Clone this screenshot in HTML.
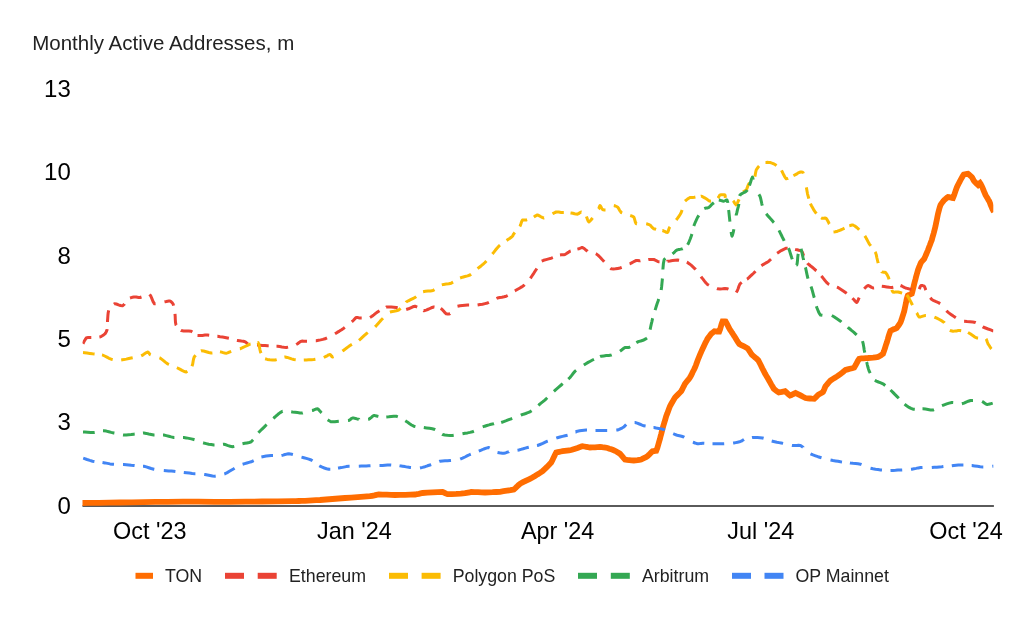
<!DOCTYPE html>
<html><head><meta charset="utf-8"><title>Monthly Active Addresses</title>
<style>
html,body{margin:0;padding:0;background:#fff;}
body{width:1024px;height:617px;overflow:hidden;font-family:"Liberation Sans",sans-serif;}
svg{display:block;will-change:transform}
text{font-family:"Liberation Sans",sans-serif;}
.ax{font-size:24px;fill:#000;}
.lg{font-size:17.75px;fill:#222;}
.d{fill:none;stroke-width:3.0;stroke-linejoin:round;}
</style></head><body>
<svg width="1024" height="617" viewBox="0 0 1024 617">
<rect width="1024" height="617" fill="#fff"/>
<defs><clipPath id="cp"><rect x="82.5" y="70" width="910.8" height="440"/></clipPath></defs>
<text x="32.2" y="49.8" style="font-size:20.5px;fill:#222">Monthly Active Addresses, m</text>
<g class="ax" text-anchor="end">
<text x="70.8" y="97">13</text>
<text x="70.8" y="180.3">10</text>
<text x="70.8" y="263.7">8</text>
<text x="70.8" y="347">5</text>
<text x="70.8" y="430.4">3</text>
<text x="70.8" y="513.6">0</text>
</g>
<g class="ax" text-anchor="middle" style="font-size:23.4px">
<text x="149.8" y="538.6">Oct '23</text>
<text x="354.4" y="538.6">Jan '24</text>
<text x="557.6" y="538.6">Apr '24</text>
<text x="760.8" y="538.6">Jul '24</text>
<text x="966" y="538.6">Oct '24</text>
</g>
<rect x="82.5" y="505" width="911.4" height="2" fill="#5a5a5a"/>
<g clip-path="url(#cp)">
<polyline fill="none" stroke="#ff6d01" stroke-width="5.8" stroke-linejoin="miter" stroke-miterlimit="3" stroke-linecap="butt" points="80.0,503.0 88.6,502.9 98.7,502.8 109.5,502.6 120.0,502.5 131.8,502.3 143.6,502.1 155.5,501.9 167.5,501.8 183.0,501.7 198.6,501.7 214.3,501.8 230.0,501.8 245.9,501.6 262.0,501.5 277.7,501.4 292.5,501.2 295.8,501.1 298.9,501.0 301.9,500.9 305.0,500.8 308.7,500.6 312.4,500.4 316.2,500.2 320.0,500.0 326.1,499.5 332.4,499.0 338.7,498.5 345.0,498.0 351.3,497.6 357.7,497.1 364.0,496.7 370.0,496.2 372.3,495.8 374.4,495.4 376.5,494.9 378.8,494.5 382.7,494.6 386.8,494.7 390.9,494.9 395.0,495.0 400.0,494.9 405.1,494.8 410.2,494.7 415.0,494.5 416.9,494.1 418.8,493.8 420.6,493.4 422.5,493.0 427.4,492.7 432.6,492.4 437.7,492.1 442.5,492.0 443.8,492.5 445.0,493.1 446.2,493.7 447.5,494.2 451.7,494.1 456.2,493.9 460.7,493.6 465.0,493.2 466.6,492.9 468.1,492.6 469.7,492.3 471.2,492.0 474.6,492.1 478.0,492.2 481.5,492.4 485.0,492.5 488.7,492.3 492.5,492.2 496.3,492.0 500.0,491.8 503.5,491.2 507.0,490.7 510.4,490.2 513.8,489.5 515.4,488.1 516.9,486.7 518.4,485.2 520.0,483.8 523.0,482.2 526.2,480.6 529.4,479.1 532.5,477.5 535.0,476.0 537.5,474.4 540.0,472.9 542.5,471.2 544.7,469.1 547.0,466.9 549.1,464.7 551.2,462.5 552.5,460.0 553.7,457.4 555.0,454.8 556.2,452.5 557.8,452.1 559.3,451.8 560.9,451.5 562.5,451.2 564.7,450.9 566.9,450.6 569.1,450.3 571.2,450.0 572.8,449.5 574.4,449.0 576.0,448.5 577.5,448.0 578.8,447.5 580.0,447.1 581.2,446.6 582.5,446.2 584.3,446.5 586.2,446.8 588.1,447.2 590.0,447.5 592.5,447.4 595.0,447.3 597.5,447.1 600.0,447.0 601.9,447.2 603.8,447.5 605.6,447.7 607.5,448.0 609.4,448.7 611.3,449.3 613.2,450.0 615.0,450.8 616.3,451.5 617.5,452.2 618.8,453.0 620.0,453.8 621.2,455.2 622.5,456.7 623.7,458.1 625.0,459.5 627.1,459.9 629.3,460.1 631.6,460.3 633.8,460.5 635.6,460.3 637.5,460.1 639.4,459.8 641.2,459.5 642.8,458.7 644.4,457.9 646.0,457.1 647.5,456.2 648.8,455.0 650.0,453.7 651.3,452.4 652.5,451.2 653.4,451.1 654.4,451.0 655.3,450.9 656.2,450.8 657.3,448.0 658.2,445.0 659.1,441.8 660.0,438.8 660.6,436.2 661.3,433.8 661.9,431.3 662.5,428.8 663.4,425.6 664.4,422.5 665.3,419.4 666.2,416.2 667.2,413.7 668.1,411.2 669.0,408.7 670.0,406.2 671.2,404.0 672.5,401.8 673.7,399.6 675.0,397.5 676.6,395.9 678.1,394.4 679.7,392.8 681.2,391.2 682.2,389.4 683.1,387.5 684.1,385.6 685.0,383.8 686.2,382.2 687.5,380.6 688.8,379.1 690.0,377.5 691.3,375.1 692.5,372.5 693.8,370.0 695.0,367.5 696.0,365.0 696.9,362.5 697.8,360.0 698.8,357.5 700.0,354.7 701.2,351.8 702.5,349.0 703.8,346.2 704.7,344.3 705.6,342.4 706.6,340.6 707.5,338.8 708.4,337.5 709.4,336.2 710.3,335.0 711.2,333.8 712.1,333.1 712.9,332.5 713.7,331.9 714.5,331.3 715.7,331.4 716.9,331.5 718.1,331.7 719.2,331.7 720.1,329.3 720.9,326.5 721.7,323.7 722.6,321.3 723.3,321.3 724.1,321.3 724.9,321.4 725.6,321.5 726.6,323.2 727.6,325.1 728.6,327.1 729.6,329.0 730.8,330.8 732.0,332.7 733.2,334.5 734.4,336.3 735.6,338.2 736.8,340.2 738.0,342.1 739.3,344.0 741.3,345.1 743.5,346.2 745.6,347.3 747.6,348.4 748.7,349.9 749.8,351.5 750.8,353.1 751.9,354.7 753.5,356.1 755.1,357.5 756.7,358.8 758.3,360.3 759.7,363.0 761.1,365.7 762.4,368.5 763.8,371.2 765.0,373.5 766.2,375.6 767.5,377.8 768.8,380.0 770.0,382.2 771.2,384.4 772.5,386.6 773.8,388.8 775.0,389.8 776.2,390.7 777.5,391.7 778.8,392.5 780.3,392.2 781.9,391.9 783.5,391.5 785.0,391.2 786.3,392.3 787.5,393.4 788.7,394.5 790.0,395.5 791.4,395.0 792.7,394.3 794.1,393.6 795.5,393.0 797.9,394.1 800.5,395.4 803.0,396.8 805.5,398.0 807.7,398.3 809.9,398.5 812.1,398.7 814.2,398.8 815.2,397.9 816.2,396.9 817.1,395.9 818.0,395.0 819.2,394.2 820.5,393.5 821.8,392.8 823.0,392.0 823.7,390.6 824.3,389.2 824.9,387.7 825.5,386.2 826.7,384.8 827.9,383.4 829.2,381.9 830.5,380.5 832.6,379.1 834.9,377.7 837.1,376.4 839.2,375.0 840.8,373.7 842.4,372.5 843.9,371.2 845.5,370.0 847.7,369.4 849.9,368.8 852.1,368.2 854.2,367.5 855.5,365.4 856.7,363.1 857.9,360.8 859.2,358.8 861.4,358.4 863.6,358.3 865.8,358.1 868.0,358.0 870.5,357.8 873.1,357.6 875.6,357.3 878.0,357.0 879.3,356.2 880.6,355.5 881.8,354.6 883.0,353.8 884.0,351.1 884.9,348.3 885.8,345.4 886.8,342.5 887.7,339.5 888.5,336.5 889.5,333.5 890.5,330.8 892.0,330.0 893.6,329.3 895.2,328.7 896.8,328.0 897.7,326.7 898.7,325.3 899.6,323.9 900.5,322.5 901.5,319.8 902.4,316.9 903.3,314.1 904.2,311.2 904.8,308.4 905.4,305.5 906.0,302.7 906.5,300.0 906.8,298.8 907.1,297.7 907.4,296.6 907.8,295.5 908.8,295.0 909.8,294.6 910.8,294.1 911.8,293.6 912.3,292.0 912.7,290.4 913.1,288.7 913.5,287.0 914.1,284.5 914.7,282.0 915.4,279.5 916.0,277.0 916.5,275.2 917.0,273.5 917.5,271.7 918.0,270.0 918.7,268.1 919.5,266.2 920.2,264.3 921.0,262.5 921.8,261.5 922.6,260.6 923.4,259.7 924.2,258.8 925.2,256.6 926.1,254.5 927.1,252.2 928.0,250.0 928.9,247.5 929.9,245.0 930.8,242.5 931.8,240.0 932.7,236.6 933.7,233.2 934.6,229.7 935.5,226.2 936.1,223.1 936.8,220.0 937.4,216.8 938.0,213.8 938.6,211.5 939.2,209.3 939.8,207.1 940.5,205.0 941.4,203.7 942.3,202.4 943.3,201.2 944.2,200.0 945.2,199.2 946.1,198.4 947.0,197.7 948.0,197.0 949.2,197.2 950.5,197.5 951.8,197.8 953.0,198.0 954.0,195.6 954.9,192.9 955.8,190.2 956.8,187.5 957.7,185.6 958.6,183.7 959.6,181.8 960.5,180.0 961.3,178.6 962.1,177.2 962.9,175.8 963.8,174.5 964.8,174.2 965.9,174.0 966.9,173.9 968.0,173.8 969.0,174.5 969.9,175.3 970.8,176.1 971.8,177.0 972.4,178.0 973.0,179.1 973.6,180.2 974.2,181.2 975.2,182.2 976.1,183.3 977.1,184.2 978.0,185.0 978.5,184.5 979.0,184.0 979.5,183.4 980.0,183.0 980.8,184.2 981.5,185.7 982.3,187.2 983.0,188.8 983.6,190.3 984.2,191.9 984.9,193.4 985.5,195.0 986.4,196.6 987.4,198.1 988.3,199.7 989.2,201.2 989.9,202.8 990.5,204.4 991.1,206.0 991.8,207.5 992.3,208.7 992.9,209.9 993.5,211.0 994.0,212.0"/>
<path class="d" stroke="#ea4335" d="M83.0,343.8 L83.5,342.7 L84.3,341.1 L85.3,339.4 L86.2,338.0 L87.1,337.7 L88.0,337.6 L89.0,337.6 L90.0,337.5 L91.3,337.5 M99.4,337.1 L100.0,337.0 L101.4,336.3 L102.7,335.5 L103.9,334.7 L105.0,333.8 L105.6,332.9 L106.1,332.0 L106.6,331.0 L107.0,330.0 L107.1,329.1 M107.5,322.0 L107.5,321.2 L107.7,318.4 L107.9,315.5 L108.2,312.6 L108.7,310.4 M113.9,304.2 L114.5,303.8 L116.4,304.0 L118.5,304.8 L120.5,305.5 L122.5,305.8 L124.5,304.2 L124.6,304.0 M130.0,298.0 L131.3,297.6 L132.5,297.3 L133.8,297.1 L135.0,297.0 L136.2,297.1 L137.4,297.3 L138.7,297.5 L140.0,297.5 L141.5,297.0 M149.6,294.4 L150.9,296.2 L152.0,298.9 L153.1,301.7 L154.5,303.8 L155.6,303.7 M164.5,301.9 L165.0,301.8 L166.4,301.5 L167.6,301.2 L168.8,301.0 L170.0,301.0 L170.8,301.5 L171.6,302.2 L172.3,302.9 L173.0,303.8 L173.6,305.6 M175.0,313.8 L175.2,316.6 L175.3,319.5 L175.5,322.4 L176.0,325.0 L176.2,325.3 M180.9,330.3 L181.2,330.5 L183.6,330.9 L186.2,330.9 L188.8,331.0 L191.2,331.2 L192.3,331.9 M197.5,335.5 L199.9,335.6 L202.4,335.4 L205.0,335.1 L207.5,335.0 L209.2,335.2 M217.4,336.2 L217.5,336.2 L220.0,336.7 L222.5,337.1 L225.0,337.5 L227.5,338.0 L228.9,338.3 M236.9,340.4 L237.5,340.5 L239.5,340.8 L241.4,341.1 L243.3,341.3 L245.0,341.8 L246.0,342.4 L246.9,343.1 L247.7,343.9 L247.8,343.9 M257.0,345.0 L257.5,345.0 L260.0,345.2 L262.5,345.4 L265.0,345.6 L267.5,345.8 L268.7,345.8 M276.5,346.2 L277.5,346.2 L279.7,346.6 L281.9,347.0 L284.1,347.3 L286.2,347.5 L288.1,347.1 M296.2,344.5 L297.6,343.7 L298.8,342.8 L300.0,341.9 L301.2,341.2 L302.5,341.1 L303.7,341.2 L304.9,341.2 L306.2,341.2 L307.0,341.2 M315.8,340.8 L316.2,340.8 L318.5,340.3 L320.6,339.9 L322.8,339.4 L325.0,338.8 L327.0,337.8 M335.0,333.8 L337.2,332.4 L339.4,331.1 L341.6,329.7 L343.8,328.2 L344.8,327.4 M351.8,321.8 L352.5,321.2 L353.5,320.2 L354.4,319.2 L355.3,318.2 L356.2,317.5 L357.1,317.5 L358.0,317.6 L359.0,317.9 L360.0,318.0 L361.7,318.0 M370.0,317.5 L372.0,316.3 L373.8,314.9 L375.6,313.4 L377.5,312.0 L379.5,310.7 M386.1,307.1 L386.2,307.0 L388.7,306.9 L391.2,307.0 L393.7,307.2 L396.2,307.5 L397.7,307.8 M406.2,309.5 L408.5,308.8 L410.7,307.8 L412.8,306.8 L415.0,306.2 L417.2,307.1 M423.5,310.6 L423.8,310.8 L426.2,310.1 L428.8,309.0 L431.3,307.8 L433.8,307.0 L434.5,307.1 M440.6,308.5 L441.2,308.8 L442.6,309.9 L443.8,311.3 L445.0,312.7 L446.2,313.8 L447.2,313.9 L448.1,314.0 L449.0,313.9 L450.0,313.8 L450.1,313.7 M457.5,306.2 L459.9,305.7 L462.4,305.4 L465.0,305.2 L467.5,305.0 L469.1,305.0 M477.6,305.0 L480.0,304.6 L482.5,304.2 L485.0,303.6 L487.5,303.0 L488.9,302.3 M496.5,298.5 L497.5,298.0 L499.7,297.5 L501.9,297.2 L504.1,296.8 L506.2,296.2 L507.7,295.5 M514.8,290.9 L515.0,290.8 L517.2,289.5 L519.5,288.2 L521.7,286.9 L523.8,285.5 L524.6,284.7 M530.4,278.3 L531.6,276.5 L533.2,274.2 L534.7,271.8 L536.2,269.5 L536.8,268.5 M541.7,261.1 L543.6,260.3 L546.1,259.6 L548.7,258.9 L551.2,258.2 L552.9,257.6 M560.0,255.0 L561.3,254.8 L562.6,254.8 L563.8,254.7 L565.0,254.5 L566.2,253.8 L567.4,252.9 L568.7,252.1 L570.0,251.2 L570.7,251.0 M577.4,249.1 L578.8,248.8 L579.8,248.4 L580.7,248.0 L581.6,247.6 L582.5,247.5 L583.7,248.2 L584.9,249.2 L586.2,250.3 L587.5,251.2 L587.6,251.3 M595.8,253.6 L596.2,253.8 L598.2,255.4 L600.1,257.3 L601.9,259.3 L603.8,261.2 L604.2,261.7 M610.4,268.1 L611.2,268.8 L613.4,268.9 L615.5,268.8 L617.8,268.4 L620.0,268.0 L621.7,267.4 M629.6,263.9 L630.0,263.8 L631.6,262.9 L633.2,262.0 L634.8,261.1 L636.2,260.5 L637.2,260.5 L638.1,260.6 L639.0,260.7 L640.0,260.8 L640.4,260.7 M648.3,259.6 L648.8,259.5 L650.1,259.4 L651.3,259.4 L652.5,259.4 L653.8,259.5 L655.0,260.0 L656.2,260.6 L657.4,261.3 L658.8,261.8 L659.5,261.8 M667.5,261.3 L667.5,261.2 L670.0,260.9 L672.5,260.5 L675.0,260.2 L677.5,260.0 L679.1,260.3 M686.8,262.2 L687.5,262.5 L689.5,263.9 L691.4,265.4 L693.2,267.1 L695.0,268.8 L695.7,269.6 M701.0,276.7 L701.2,277.0 L702.8,278.9 L704.3,280.9 L705.8,282.8 L707.5,284.5 L708.9,285.3 M716.9,288.6 L717.5,288.8 L720.0,288.9 L722.5,288.8 L725.0,288.6 L727.5,288.8 L728.5,289.2 M736.2,292.5 L737.3,290.8 L738.2,288.5 L739.0,286.0 L740.0,283.8 L741.7,282.4 M746.9,279.1 L747.5,278.8 L749.1,277.4 L750.6,275.9 L752.2,274.5 L753.8,273.0 L755.5,271.2 M761.4,265.7 L763.1,264.6 L765.0,263.5 L766.9,262.4 L768.8,261.2 L770.6,259.5 L771.0,259.1 M777.1,253.2 L778.7,252.2 L781.2,250.6 L783.7,249.3 L786.2,248.2 L787.6,248.3 M795.1,249.4 L795.5,249.5 L797.2,249.8 L798.8,250.2 L800.4,250.6 L801.8,251.2 L802.5,252.6 L803.1,254.2 L803.6,255.7 M807.6,263.2 L808.0,263.8 L809.5,265.0 L811.0,266.3 L812.6,267.5 L814.2,268.8 L816.1,270.6 L816.4,270.8 M821.3,276.0 L821.8,276.5 L823.3,278.4 L824.8,280.3 L826.3,282.1 L828.0,283.8 L829.3,284.3 M836.9,287.1 L838.0,287.5 L839.9,288.7 L841.8,289.9 L843.7,291.2 L845.5,292.5 L846.7,293.4 M852.4,298.2 L853.0,298.8 L854.0,299.8 L855.0,301.0 L855.9,301.9 L856.8,302.5 L857.4,301.6 L858.0,300.4 L858.6,298.9 L859.2,297.6 M864.2,288.8 L865.2,287.8 L866.1,286.8 L867.0,286.0 L868.0,285.5 L869.2,285.9 L870.4,286.6 L871.7,287.4 L873.0,288.0 L874.1,287.9 M881.8,286.2 L884.2,286.5 L886.8,286.9 L889.3,287.3 L891.8,287.5 L893.3,287.2 M900.5,285.5 L901.8,286.0 L903.0,286.7 L904.2,287.4 L905.5,288.0 L907.0,288.4 L908.6,288.8 L910.2,289.1 L911.4,289.4 M919.2,289.2 L919.6,288.4 L920.2,286.7 L921.0,285.5 L921.8,285.5 L922.6,285.6 L923.5,285.9 L924.2,286.2 L924.8,287.3 L925.3,288.5 L925.7,289.9 L925.8,290.1 M930.3,297.7 L931.8,299.5 L933.8,300.7 L936.1,301.7 L938.4,302.6 L940.2,303.6 M946.4,310.8 L946.8,311.2 L948.8,312.9 L951.0,314.5 L953.3,316.1 L955.5,317.5 L955.8,317.7 M964.1,321.2 L964.2,321.2 L967.0,321.6 L969.9,321.8 L972.8,322.1 L975.5,322.5 L975.7,322.6 M982.7,326.8 L983.0,327.0 L985.5,328.0 L988.1,329.0 L990.7,329.9 L993.0,330.8 L993.6,331.0"/>
<path class="d" stroke="#fbbc04" d="M83.0,352.5 L84.6,352.7 L87.0,353.0 L89.8,353.4 L92.5,353.8 L94.6,354.0 M102.0,354.9 L102.5,355.0 L104.7,356.0 L106.9,357.1 L109.0,358.3 L111.2,359.2 L112.7,359.5 M121.2,360.0 L123.8,359.6 L126.3,359.1 L128.8,358.5 L131.2,358.0 L132.7,357.7 M141.2,355.8 L143.1,354.8 L144.9,353.6 L146.5,352.6 L148.0,352.0 L148.5,352.5 L149.0,353.1 L149.4,353.8 L150.0,354.5 L150.7,354.8 M159.4,357.8 L160.0,358.0 L161.9,359.4 L163.8,360.9 L165.6,362.4 L167.5,363.8 L169.0,364.4 M176.9,367.7 L177.5,368.0 L179.8,369.2 L182.0,370.4 L184.2,371.5 L186.2,372.0 L187.4,371.3 M192.0,366.2 L192.7,364.0 L193.1,361.6 L193.5,359.2 L194.2,357.0 L195.6,355.3 M201.0,350.9 L201.2,350.8 L203.6,351.0 L206.2,351.7 L208.7,352.5 L211.2,353.0 L212.4,352.9 M220.0,351.8 L221.6,352.1 L223.2,352.6 L224.7,353.0 L226.2,353.2 L227.5,352.9 L228.7,352.4 L229.9,351.8 L231.2,351.3 M239.9,348.8 L240.0,348.8 L242.5,347.7 L245.0,346.5 L247.5,345.3 L250.0,344.2 L250.6,344.1 M257.5,342.5 L258.0,342.5 L258.9,344.4 L259.4,346.9 L259.9,349.5 L260.5,352.0 L261.1,353.2 M265.1,358.8 L267.3,359.4 L269.8,359.8 L272.4,360.0 L275.0,360.0 L276.7,359.6 M284.4,357.1 L285.0,357.0 L287.2,357.4 L289.4,358.1 L291.5,358.9 L293.8,359.5 L295.7,359.7 M303.8,360.0 L306.3,359.9 L308.8,359.8 L311.3,359.7 L313.8,359.5 L315.4,359.2 M323.8,357.5 L325.4,356.7 L327.1,355.8 L328.6,354.9 L330.0,354.5 L330.7,355.0 L331.2,355.8 L331.8,356.5 L332.5,357.0 L333.6,356.6 M342.4,351.1 L343.4,350.4 L345.6,348.8 L347.8,347.1 L350.0,345.5 L351.9,344.4 M359.0,340.3 L360.7,338.9 L362.5,337.2 L364.4,335.4 L366.2,333.8 L367.8,332.6 M375.1,326.9 L376.6,325.3 L378.2,323.5 L379.7,321.8 L381.2,320.0 L383.0,318.2 M389.9,312.1 L391.2,311.7 L393.8,311.3 L396.3,310.8 L398.8,310.0 L400.6,308.3 M406.0,302.3 L406.2,302.0 L408.4,300.8 L410.6,299.7 L412.8,298.6 L415.0,297.5 L416.2,296.6 M423.1,291.7 L425.4,291.3 L428.0,291.1 L430.5,290.9 L433.0,290.5 L434.5,289.6 M441.8,284.9 L443.7,284.4 L446.2,284.1 L448.8,283.8 L451.2,283.2 L453.1,282.2 M460.1,278.0 L462.5,277.2 L465.0,276.5 L467.6,275.9 L470.0,275.0 L471.1,274.2 M477.6,268.7 L479.4,267.2 L481.3,265.7 L483.2,264.1 L485.0,262.5 L486.4,261.0 M492.4,254.0 L493.7,252.4 L495.3,250.3 L497.0,248.2 L498.8,246.2 L500.0,245.2 M506.6,240.5 L507.9,239.6 L509.6,238.5 L511.2,237.3 L512.5,236.2 L512.9,235.6 L513.1,235.0 L513.4,234.4 L513.8,233.8 L514.8,232.5 M519.8,226.5 L520.0,226.2 L520.7,224.6 L521.2,222.9 L521.8,221.3 L522.5,220.0 L523.4,219.9 L524.3,219.9 L525.2,220.0 L526.2,220.0 L527.1,219.7 M533.8,217.0 L534.7,216.4 L535.6,215.9 L536.5,215.3 L537.5,215.0 L539.0,215.6 L540.5,216.5 L542.1,217.4 L543.8,218.0 L544.2,217.9 M552.5,213.8 L552.5,213.8 L553.8,213.1 L555.0,212.5 L556.2,212.0 L557.5,212.0 L558.7,212.1 L559.9,212.3 L561.2,212.5 L563.6,212.6 L563.8,212.6 M570.5,212.9 L571.2,213.0 L572.9,213.3 L574.5,213.8 L576.0,214.1 L577.5,214.2 L578.5,213.7 L579.4,213.0 L580.3,212.4 L581.2,212.0 L581.4,212.1 M586.4,216.5 L586.9,217.8 L587.5,219.5 L588.1,221.0 L588.8,222.0 L589.7,221.3 L590.8,220.2 L591.9,218.8 L592.7,217.9 M598.5,209.1 L598.8,208.8 L599.1,207.8 L599.4,206.8 L599.7,206.0 L600.0,205.5 L600.6,206.2 L601.1,207.3 L601.8,208.5 L602.5,209.5 L603.4,209.8 L604.3,210.0 L605.3,210.0 L605.5,210.0 M613.8,205.6 L614.4,205.7 L615.4,206.0 L616.5,206.5 L617.5,207.0 L618.5,208.2 L619.3,209.7 L620.2,211.2 L621.2,212.5 L622.2,212.9 M630.2,215.5 L631.4,215.9 L632.6,216.4 L633.8,217.0 L634.4,218.6 L634.9,220.4 L635.4,222.3 L636.2,223.8 L636.9,223.8 M646.2,223.8 L647.3,224.0 L648.2,224.3 L649.1,224.6 L650.0,225.0 L650.9,225.9 L651.8,226.9 L652.7,227.9 L653.8,228.8 L655.8,229.3 L656.1,229.4 M662.4,230.5 L662.5,230.5 L663.9,231.1 L665.2,231.7 L666.4,232.3 L667.5,232.5 L668.1,231.6 L668.5,230.3 L668.9,228.9 L669.5,227.5 L670.0,226.9 M676.2,220.0 L677.6,218.2 L678.9,216.3 L680.1,214.5 L681.2,212.5 L682.1,210.0 M685.0,201.2 L686.2,200.1 L687.5,199.1 L688.8,198.2 L690.0,197.5 L690.6,197.4 L691.2,197.4 L691.8,197.5 L692.5,197.5 L694.5,197.2 L695.4,197.0 M700.8,196.3 L701.2,196.2 L702.6,196.7 L703.8,197.4 L705.1,198.1 L706.2,198.8 L707.2,199.4 L708.1,200.1 L709.0,200.8 L710.0,201.2 L711.1,201.1 M717.9,198.2 L718.2,197.8 L718.8,196.8 L719.3,195.8 L720.0,195.0 L721.2,194.8 L722.6,194.7 L723.9,194.7 L725.0,195.0 L725.2,195.8 L725.2,196.8 L725.3,197.8 M733.1,200.7 L733.6,201.2 L734.5,202.8 L735.4,204.1 L736.2,205.0 L736.9,204.2 L737.5,202.9 L738.1,201.4 L738.8,200.0 L739.1,199.3 M743.1,192.0 L743.4,191.8 L744.4,191.2 L745.4,190.7 L746.2,190.0 L746.9,188.6 L747.5,187.0 L748.1,185.3 L748.8,183.8 L749.5,182.8 M754.8,176.6 L755.1,175.7 L755.4,173.7 L755.8,171.8 L756.2,170.0 L757.1,168.6 L758.0,167.3 L759.0,166.1 L759.1,166.0 M765.5,162.4 L766.2,162.4 L767.5,162.3 L768.8,162.4 L770.0,162.5 L771.3,162.9 L772.5,163.3 L773.8,163.9 L775.0,164.5 L776.5,165.6 M781.5,170.4 L782.5,172.3 L783.7,174.8 L784.9,177.1 L786.2,178.8 L788.0,178.4 L788.2,178.3 M793.4,175.7 L793.8,175.5 L795.5,174.6 L797.3,173.6 L798.9,172.6 L800.5,172.0 L801.2,172.0 L801.8,172.1 L802.4,172.2 L803.0,172.5 L803.4,173.6 M806.3,187.3 L806.5,188.1 L807.0,191.0 L807.5,193.8 L808.2,196.3 L808.8,198.7 M810.4,203.6 L810.5,203.8 L811.6,206.0 L812.9,208.3 L814.1,210.4 L815.5,212.5 L816.5,213.6 M821.1,217.8 L821.8,218.2 L822.8,218.3 L823.9,218.2 L825.0,218.1 L826.0,218.2 L826.9,219.4 L827.7,220.7 L828.5,222.2 L829.2,223.8 L829.4,224.0 M833.5,232.0 L835.4,231.8 L837.5,231.2 L839.7,230.3 L841.8,229.5 L843.7,228.6 L844.5,228.2 M849.3,225.7 L850.2,225.5 L851.2,225.2 L852.1,225.0 L853.0,225.0 L853.9,225.5 L854.9,226.0 L855.8,226.7 L856.8,227.5 L858.6,229.2 L859.2,229.8 M864.8,235.9 L865.6,237.1 L866.8,239.3 L868.0,241.6 L869.2,243.8 L870.8,245.9 M875.1,251.9 L875.5,252.5 L876.3,254.9 L876.8,257.5 L877.4,260.0 L878.0,262.5 L878.2,263.2 M881.7,271.6 L881.8,271.8 L882.7,272.1 L883.6,272.2 L884.6,272.2 L885.5,272.5 L886.3,273.5 L887.1,274.7 L887.8,276.1 L888.5,277.5 L889.0,279.3 M891.9,289.9 L892.0,290.2 L892.4,291.2 L893.0,292.0 L894.1,292.2 L895.3,292.1 L896.7,292.0 L898.0,292.0 L900.1,292.5 L902.1,293.1 M906.8,295.0 L908.2,296.9 L909.4,299.1 L910.6,301.5 L911.8,303.8 L912.5,305.2 M916.7,312.9 L916.8,313.0 L917.4,314.1 L917.9,315.2 L918.5,316.2 L919.2,317.0 L920.6,316.9 L922.2,316.4 L923.8,315.9 L925.5,315.5 L925.9,315.5 M934.4,317.1 L936.8,318.2 L939.4,319.5 L941.9,320.9 L944.2,322.5 L944.5,322.9 M949.8,330.3 L950.2,330.5 L951.1,330.8 L952.0,331.0 L953.0,331.2 L954.6,331.1 L956.4,330.9 L958.2,330.6 L960.0,330.5 L961.2,330.7 M968.0,332.5 L970.2,333.8 L972.4,335.3 L974.5,336.8 L976.8,338.0 L978.1,338.1 M986.0,338.8 L986.3,339.2 L986.9,340.7 L987.4,342.3 L988.0,343.8 L988.8,345.0 L989.6,346.2 L990.4,347.5 L991.2,348.8 L991.4,349.0 M996.0,356.0 L996.0,356.0"/>
<path class="d" stroke="#34a853" d="M83.0,432.0 L84.8,432.1 L87.6,432.3 L90.8,432.5 L93.8,432.5 L94.7,432.4 M103.0,430.8 L103.8,430.8 L106.3,431.1 L108.8,431.7 L111.2,432.4 L113.8,433.0 L114.4,433.1 M123.0,434.9 L123.8,435.0 L126.2,434.9 L128.7,434.7 L131.2,434.5 L133.8,434.2 L134.7,434.1 M143.0,433.1 L143.8,433.0 L146.3,433.4 L148.7,434.0 L151.2,434.5 L153.8,435.0 L154.5,435.0 M163.0,435.0 L163.8,435.0 L166.3,435.6 L168.8,436.2 L171.2,436.9 L173.8,437.5 L174.4,437.5 M183.0,437.5 L183.8,437.5 L186.3,437.9 L188.8,438.4 L191.3,438.9 L193.8,439.5 L194.5,439.7 M203.1,442.8 L203.8,443.0 L206.2,443.6 L208.7,444.2 L211.2,444.6 L213.8,445.0 L214.5,445.0 M223.0,444.3 L223.8,444.2 L226.0,444.8 L228.1,445.6 L230.3,446.3 L232.5,446.8 L234.3,446.4 M242.5,443.8 L244.7,443.3 L247.0,442.9 L249.2,442.5 L251.2,441.8 L252.9,440.0 L253.1,439.8 M258.4,432.8 L259.6,431.5 L261.8,429.3 L264.1,427.1 L266.2,425.0 L266.7,424.6 M273.3,418.4 L273.8,418.0 L275.9,416.2 L278.0,414.3 L280.2,412.6 L282.5,411.2 L282.6,411.2 M291.2,411.8 L292.5,412.0 L295.0,412.3 L297.5,412.6 L300.0,412.9 L302.5,413.0 L302.8,412.9 M312.0,410.6 L312.5,410.5 L313.8,410.0 L315.1,409.4 L316.3,409.0 L317.5,408.8 L318.5,409.4 L319.4,410.4 L320.3,411.4 L321.2,412.5 L321.6,412.9 M327.7,419.7 L328.4,420.2 L329.3,420.8 L330.2,421.3 L331.2,421.8 L333.0,421.8 L334.8,421.7 L336.8,421.4 L338.8,421.2 L338.8,421.2 M348.0,420.6 L348.8,420.5 L349.8,419.9 L350.7,419.2 L351.5,418.5 L352.5,418.0 L354.0,418.1 L355.5,418.5 L357.1,418.9 L358.8,419.2 L358.8,419.3 M368.1,419.3 L368.8,419.2 L370.1,418.4 L371.4,417.3 L372.5,416.3 L373.8,415.5 L374.7,415.6 L375.6,415.8 L376.5,416.0 L377.5,416.2 L378.4,416.4 M386.3,417.0 L388.7,416.8 L391.3,416.5 L393.8,416.2 L396.2,416.2 L397.8,416.8 M405.3,420.7 L407.2,421.9 L409.3,423.5 L411.5,425.0 L413.8,426.2 L415.4,426.6 M423.8,427.5 L426.6,427.9 L429.5,428.3 L432.3,428.8 L435.0,429.5 L435.2,429.6 M442.2,434.3 L442.5,434.5 L444.9,435.0 L447.4,435.3 L450.0,435.4 L452.5,435.5 L453.7,435.3 M462.5,433.8 L465.0,433.3 L467.5,432.9 L470.0,432.4 L472.5,431.8 L473.9,431.2 M482.7,426.9 L484.7,426.2 L486.9,425.5 L489.0,424.9 L491.2,424.2 L493.7,423.8 L494.0,423.7 M501.2,422.5 L503.8,421.6 L506.3,420.7 L508.8,419.7 L511.2,418.8 L512.2,418.4 M520.8,415.2 L521.2,415.0 L523.5,414.2 L525.7,413.5 L527.8,412.7 L530.0,411.8 L531.6,410.7 M538.3,405.4 L538.8,405.0 L540.7,403.4 L542.6,401.9 L544.5,400.3 L546.2,398.8 L547.2,397.8 M553.9,391.4 L556.1,389.4 L558.7,387.2 L561.2,385.0 L562.7,383.7 M568.3,379.1 L570.0,377.5 L571.3,375.9 L572.5,374.3 L573.7,372.8 L575.0,371.2 L576.1,370.4 M583.8,365.0 L585.9,363.7 L588.1,362.4 L590.3,361.2 L592.5,360.0 L594.0,359.3 M600.1,356.7 L601.2,356.2 L603.7,355.9 L606.2,355.6 L608.8,355.4 L611.2,355.0 L611.7,354.8 M620.0,351.2 L621.3,350.3 L622.6,349.2 L623.8,348.3 L625.0,347.5 L625.9,347.4 L626.8,347.5 L627.8,347.6 L628.8,347.5 L630.2,346.7 M636.4,342.7 L637.5,342.0 L639.1,341.4 L640.7,341.0 L642.3,340.5 L643.8,340.0 L644.8,339.4 L645.7,338.9 L646.6,338.3 L647.0,338.0 M650.1,329.6 L650.6,327.3 L651.2,324.4 L651.9,321.6 L652.5,318.8 L652.7,318.2 M655.1,310.2 L655.5,308.8 L656.3,306.2 L657.1,303.7 L658.0,301.2 L658.7,299.0 M661.2,290.1 L661.2,290.0 L661.6,287.0 L661.9,283.9 L662.2,280.8 L662.4,278.5 M662.9,269.5 L663.0,268.2 L663.4,263.5 L664.2,259.5 L665.4,258.4 M672.5,253.8 L673.7,252.8 L674.8,251.8 L675.8,250.8 L677.0,250.0 L678.3,249.6 L679.7,249.4 L681.1,249.1 L682.5,248.8 L682.7,248.7 M687.6,244.8 L688.6,243.0 L689.5,240.8 L690.4,238.5 L691.2,236.2 L691.9,234.0 M693.8,226.0 L694.6,224.0 L695.5,221.8 L696.5,219.7 L697.5,217.5 L698.8,215.4 M704.3,208.6 L705.0,208.3 L706.3,208.1 L707.5,207.9 L708.8,207.5 L709.7,206.7 L710.6,205.7 L711.5,204.7 L712.5,203.8 L713.9,202.7 M718.8,200.0 L720.0,200.2 L721.3,200.6 L722.6,201.0 L723.8,201.2 L724.6,200.9 L725.5,200.5 L726.3,200.1 L727.0,200.0 L727.7,202.1 L727.8,202.9 M728.6,210.0 L728.8,211.2 L729.1,214.0 L729.4,216.8 L729.7,219.6 L729.9,221.6 M731.2,231.9 L731.4,233.9 L732.0,236.2 L732.6,234.6 L733.3,232.0 L733.9,229.2 M736.2,215.4 L736.2,215.0 L736.9,212.4 L737.5,209.7 L738.2,207.1 L738.8,204.5 L738.8,204.0 M739.7,196.0 L740.0,195.0 L741.4,193.9 L743.1,193.0 L744.8,192.2 L746.2,191.2 L747.0,190.4 L747.3,189.9 M749.5,185.5 L749.7,184.8 L750.7,181.7 L751.6,178.8 L752.5,177.0 L753.0,178.8 L753.1,179.6 M758.9,194.4 L760.0,196.2 L760.7,198.7 L761.3,201.3 L761.8,203.8 L762.3,205.6 M766.2,213.8 L768.0,215.9 L769.9,218.1 L771.9,220.3 L773.8,222.5 L773.9,222.6 M779.0,230.4 L780.0,232.4 L781.3,235.0 L782.5,237.5 L783.8,240.0 L784.2,240.8 M788.5,248.2 L788.8,248.8 L789.8,251.6 L790.7,254.5 L791.6,257.4 L792.3,259.3 M796.3,265.1 L796.3,265.1 L796.8,265.0 L797.2,263.1 L797.5,260.5 L797.7,257.6 L798.0,255.0 L798.3,253.9 M801.0,248.7 L801.1,249.2 L801.8,251.8 L802.4,254.7 L803.0,257.5 L803.6,260.0 L803.6,260.1 M805.4,267.3 L805.5,267.5 L806.1,270.3 L806.7,273.1 L807.3,276.0 L808.0,278.7 M811.0,286.6 L811.8,288.8 L812.4,290.9 L813.0,293.1 L813.6,295.3 L814.2,297.5 L814.3,297.8 M816.4,306.2 L816.8,307.5 L817.6,309.5 L818.4,311.5 L819.3,313.4 L820.5,315.0 L822.4,315.3 M831.8,315.5 L834.0,316.7 L836.2,318.2 L838.4,319.7 L840.5,321.2 L841.4,322.0 M847.8,327.3 L848.0,327.5 L849.9,329.0 L851.8,330.6 L853.7,332.1 L855.5,333.8 L856.7,334.9 M862.5,341.2 L863.1,343.3 L863.5,345.5 L863.9,347.7 L864.2,350.0 L864.8,352.7 M866.6,362.0 L866.8,362.5 L867.3,364.8 L867.9,367.0 L868.5,369.1 L869.2,371.2 L870.2,373.2 M874.8,380.3 L876.3,381.1 L878.5,382.0 L880.8,382.8 L883.0,383.8 L884.9,385.2 L885.3,385.5 M890.5,390.0 L892.7,392.1 L894.9,394.4 L897.1,396.6 L898.8,398.3 M904.6,404.2 L905.5,405.0 L907.3,406.2 L909.1,407.4 L911.0,408.4 L913.0,409.2 L914.8,409.3 M922.5,408.8 L923.0,408.8 L925.5,409.1 L928.0,409.5 L930.5,409.9 L933.0,410.0 L934.0,409.6 M942.0,405.7 L944.2,404.8 L946.7,403.9 L949.2,403.1 L951.8,402.5 L953.2,402.6 M961.9,403.7 L964.0,403.1 L966.1,402.1 L968.3,401.2 L970.5,400.5 L973.0,400.4 M982.1,401.4 L983.1,402.0 L984.4,403.0 L985.6,403.9 L986.8,404.5 L987.7,404.4 L988.7,404.2 L989.6,404.0 L990.5,403.8 L991.1,403.6 L991.7,403.4 L992.4,403.2 L992.7,403.1"/>
<path class="d" stroke="#4285f4" d="M83.2,458.1 L84.6,458.6 L87.0,459.5 L89.8,460.4 L92.5,461.2 L94.4,461.5 M102.5,462.5 L105.0,462.9 L107.5,463.4 L110.0,463.9 L112.5,464.2 L114.0,464.3 M123.0,464.5 L123.8,464.5 L126.3,464.7 L128.8,465.0 L131.3,465.3 L133.8,465.5 L134.6,465.6 M143.0,466.2 L143.8,466.2 L146.3,466.9 L148.8,467.7 L151.2,468.5 L153.8,469.2 L154.3,469.3 M163.8,470.5 L166.2,470.7 L168.8,470.9 L171.3,471.0 L173.8,471.2 L175.4,471.4 M183.8,472.5 L186.5,472.8 L189.4,473.1 L192.2,473.5 L195.0,473.8 L195.4,473.8 M204.2,474.4 L205.0,474.5 L207.5,475.0 L210.0,475.5 L212.5,476.0 L215.0,476.2 L215.7,476.1 M224.3,474.0 L225.0,473.8 L227.2,472.6 L229.4,471.3 L231.6,470.0 L233.8,468.8 L234.6,468.3 M242.6,464.2 L244.7,463.6 L246.9,463.0 L249.0,462.4 L251.2,461.8 L253.7,460.6 M261.4,457.0 L263.7,456.5 L266.2,456.1 L268.7,455.8 L271.2,455.5 L273.0,455.5 M281.5,455.5 L283.1,455.1 L285.0,454.5 L286.8,454.1 L288.8,453.8 L291.8,454.3 L292.9,454.6 M301.5,457.1 L303.8,457.7 L306.3,458.4 L308.8,459.1 L311.2,460.0 L312.5,460.8 M319.3,465.8 L320.0,466.2 L322.2,467.2 L324.3,468.0 L326.5,468.7 L328.8,469.2 L330.3,469.2 M338.0,468.1 L338.8,468.0 L341.3,467.6 L343.7,467.1 L346.2,466.6 L348.8,466.2 L349.6,466.2 M358.8,466.2 L361.2,466.1 L363.7,466.0 L366.2,465.9 L368.8,465.8 L370.5,465.7 M379.5,465.5 L380.0,465.5 L382.5,465.4 L385.0,465.2 L387.5,465.1 L390.0,465.0 L391.2,465.1 M399.5,465.7 L400.0,465.8 L402.5,466.2 L405.0,466.6 L407.5,467.1 L410.0,467.5 L411.0,467.6 M420.0,468.0 L422.5,467.4 L425.0,466.7 L427.5,465.8 L430.0,465.0 L431.2,464.6 M439.3,461.5 L440.0,461.2 L442.5,460.9 L445.0,460.8 L447.5,460.7 L450.0,460.5 L451.0,460.4 M460.2,459.2 L462.5,458.2 L465.0,457.0 L467.5,455.7 L470.0,454.5 L470.8,454.2 M478.8,451.2 L481.2,450.2 L483.8,449.0 L486.3,448.1 L488.8,447.5 L489.7,447.9 M497.5,452.5 L499.1,452.8 L500.7,453.1 L502.2,453.2 L503.8,453.2 L505.0,453.0 L506.2,452.6 L507.4,452.1 L508.8,451.8 L508.9,451.7 M517.5,450.2 L518.8,450.0 L521.0,449.4 L523.1,448.8 L525.3,448.1 L527.5,447.5 L528.8,447.2 M537.0,445.6 L537.5,445.5 L540.1,444.5 L542.8,443.4 L545.3,442.2 L547.5,441.2 L547.8,441.1 M556.3,438.1 L557.4,437.7 L560.0,437.0 L562.5,436.4 L565.1,435.8 L567.6,435.2 L567.6,435.2 M575.5,432.0 L575.6,432.0 L577.5,431.2 L579.6,430.8 L581.8,430.5 L584.0,430.2 L586.2,430.0 L587.0,430.0 M595.5,430.5 L596.2,430.5 L598.7,430.5 L601.2,430.5 L603.7,430.5 L606.2,430.5 L607.2,430.5 M616.3,430.1 L617.5,430.0 L619.2,429.4 L620.8,428.6 L622.4,427.8 L623.8,427.0 L624.4,426.4 L625.0,425.7 L625.6,425.1 L626.2,424.5 M634.6,422.5 L635.0,422.5 L637.2,423.1 L639.4,424.0 L641.5,424.9 L643.8,425.8 L645.6,426.1 M653.5,427.5 L653.8,427.5 L656.2,428.0 L658.7,428.4 L661.2,428.9 L663.8,429.5 L664.9,430.0 M673.2,433.7 L675.0,434.5 L677.2,435.2 L679.4,435.7 L681.6,436.3 L683.8,437.0 L684.3,437.3 M692.9,442.2 L693.8,442.5 L695.0,443.0 L696.3,443.4 L697.5,443.8 L698.7,443.7 L699.9,443.6 L701.2,443.4 L702.5,443.2 L704.3,443.3 M712.5,443.8 L715.0,443.8 L717.5,443.8 L720.0,443.8 L722.5,443.8 L724.2,443.7 M733.1,443.1 L733.8,443.0 L735.7,442.6 L737.7,442.2 L739.5,441.8 L741.2,441.2 L742.2,440.6 L743.1,440.0 L744.0,439.4 M752.0,437.6 L752.5,437.5 L754.9,437.5 L757.5,437.6 L760.0,437.7 L762.5,438.0 L763.6,438.3 M771.7,441.0 L772.5,441.2 L774.7,441.7 L776.9,442.2 L779.0,442.6 L781.2,443.0 L783.1,443.4 M791.9,445.4 L792.5,445.5 L794.6,445.5 L796.6,445.4 L798.5,445.3 L800.5,445.5 L803.0,447.2 L803.0,447.3 M810.5,453.8 L813.0,454.9 L815.5,455.8 L818.0,456.7 L820.5,457.5 L821.5,457.8 M830.5,460.0 L833.0,460.5 L835.5,460.9 L838.0,461.3 L840.5,461.8 L842.0,462.0 M849.9,462.9 L850.5,463.0 L853.0,463.3 L855.5,463.5 L858.0,463.8 L860.5,464.2 L861.5,464.6 M870.5,468.2 L873.0,468.8 L875.5,469.3 L878.0,469.6 L880.5,470.0 L882.0,470.1 M890.5,470.5 L893.0,470.4 L895.5,470.3 L898.0,470.1 L900.5,470.0 L902.2,469.9 M911.0,469.3 L911.8,469.2 L914.0,468.8 L916.1,468.4 L918.3,467.9 L920.5,467.5 L922.5,467.4 M931.8,467.5 L934.3,467.3 L936.8,467.2 L939.3,467.0 L941.8,466.8 L943.4,466.6 M951.8,465.8 L953.9,465.5 L956.1,465.3 L958.3,465.1 L960.5,465.0 L963.3,465.1 L963.4,465.1 M971.7,465.5 L971.8,465.5 L974.6,465.9 L977.4,466.3 L980.2,466.7 L983.0,467.0 L983.3,467.0 M992.3,466.3 L993.0,466.2 L994.2,466.2 L995.4,466.1 L996.4,466.0 L997.0,466.0"/>
</g>
<g>
<rect x="135.5" y="572.8" width="17.5" height="6" fill="#ff6d01"/>
<text class="lg" x="165" y="581.6">TON</text>
<rect x="225" y="572.8" width="19" height="6" fill="#ea4335"/><rect x="257.7" y="572.8" width="19" height="6" fill="#ea4335"/>
<text class="lg" x="289" y="581.6">Ethereum</text>
<rect x="389" y="572.8" width="19" height="6" fill="#fbbc04"/><rect x="421.6" y="572.8" width="19" height="6" fill="#fbbc04"/>
<text class="lg" x="452.7" y="581.6">Polygon PoS</text>
<rect x="578" y="572.8" width="19" height="6" fill="#34a853"/><rect x="610.8" y="572.8" width="19" height="6" fill="#34a853"/>
<text class="lg" x="642" y="581.6">Arbitrum</text>
<rect x="732" y="572.8" width="19" height="6" fill="#4285f4"/><rect x="764.5" y="572.8" width="19" height="6" fill="#4285f4"/>
<text class="lg" x="795.5" y="581.6">OP Mainnet</text>
</g>
</svg>
</body></html>
